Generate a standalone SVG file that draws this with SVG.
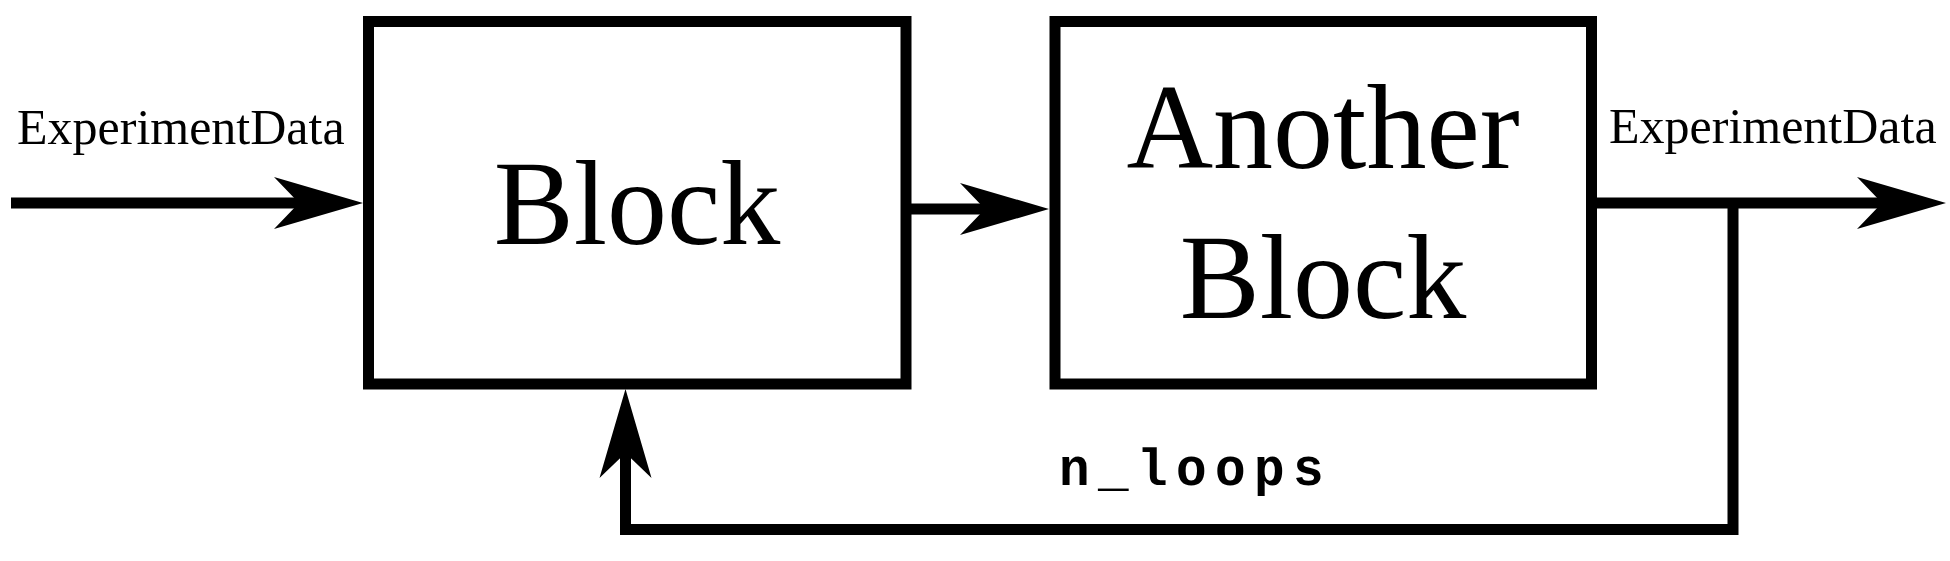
<svg xmlns="http://www.w3.org/2000/svg" width="1950" height="561" viewBox="0 0 1950 561">
  <style>
    .box { fill: #ffffff; stroke: #000000; stroke-width: 11; }
    .conn { fill: none; stroke: #000000; stroke-width: 11; stroke-linejoin: miter; }
    .big { font-family: "Liberation Serif", "Times New Roman", serif; font-size: 120px; fill: #000000; text-anchor: middle; }
    .lbl { font-family: "Liberation Serif", "Times New Roman", serif; font-size: 50px; fill: #000000; }
    .mono { font-family: "Liberation Mono", "Courier New", monospace; font-size: 51px; font-weight: bold; fill: #000000; letter-spacing: 8.4px; }
  </style>
  <defs>
    <marker id="arrow" markerUnits="userSpaceOnUse" markerWidth="100" markerHeight="60" viewBox="0 -30 100 60" refX="25" refY="0" orient="auto" overflow="visible">
      <path d="M0,-26 L89,0 L0,26 L25,0 Z" fill="#000000"/>
    </marker>
  </defs>
  <rect width="1950" height="561" fill="#ffffff"/>
  <g id="block">
    <rect class="box" x="368.5" y="21.5" width="537.5" height="362.5"/>
    <text class="big" x="637" y="244">Block</text>
  </g>
  <g id="another-block">
    <rect class="box" x="1055" y="21.5" width="536.5" height="362.5"/>
    <text class="big" x="1323" y="168">Another</text>
    <text class="big" x="1323" y="318">Block</text>
  </g>
  <g id="connectors">
    <line class="conn" x1="11" y1="203" x2="299" y2="203" marker-end="url(#arrow)"/>
    <line class="conn" x1="906" y1="209" x2="985" y2="209" marker-end="url(#arrow)"/>
    <line class="conn" x1="1591.5" y1="203" x2="1882" y2="203" marker-end="url(#arrow)"/>
    <path class="conn" d="M1733,203 L1733,529.5 L625.5,529.5 L625.5,453" marker-end="url(#arrow)"/>
  </g>
  <g id="labels">
    <text class="lbl" x="17" y="144">ExperimentData</text>
    <text class="lbl" x="1609" y="143">ExperimentData</text>
    <text class="mono" x="1059" y="485">n_loops</text>
  </g>
</svg>
